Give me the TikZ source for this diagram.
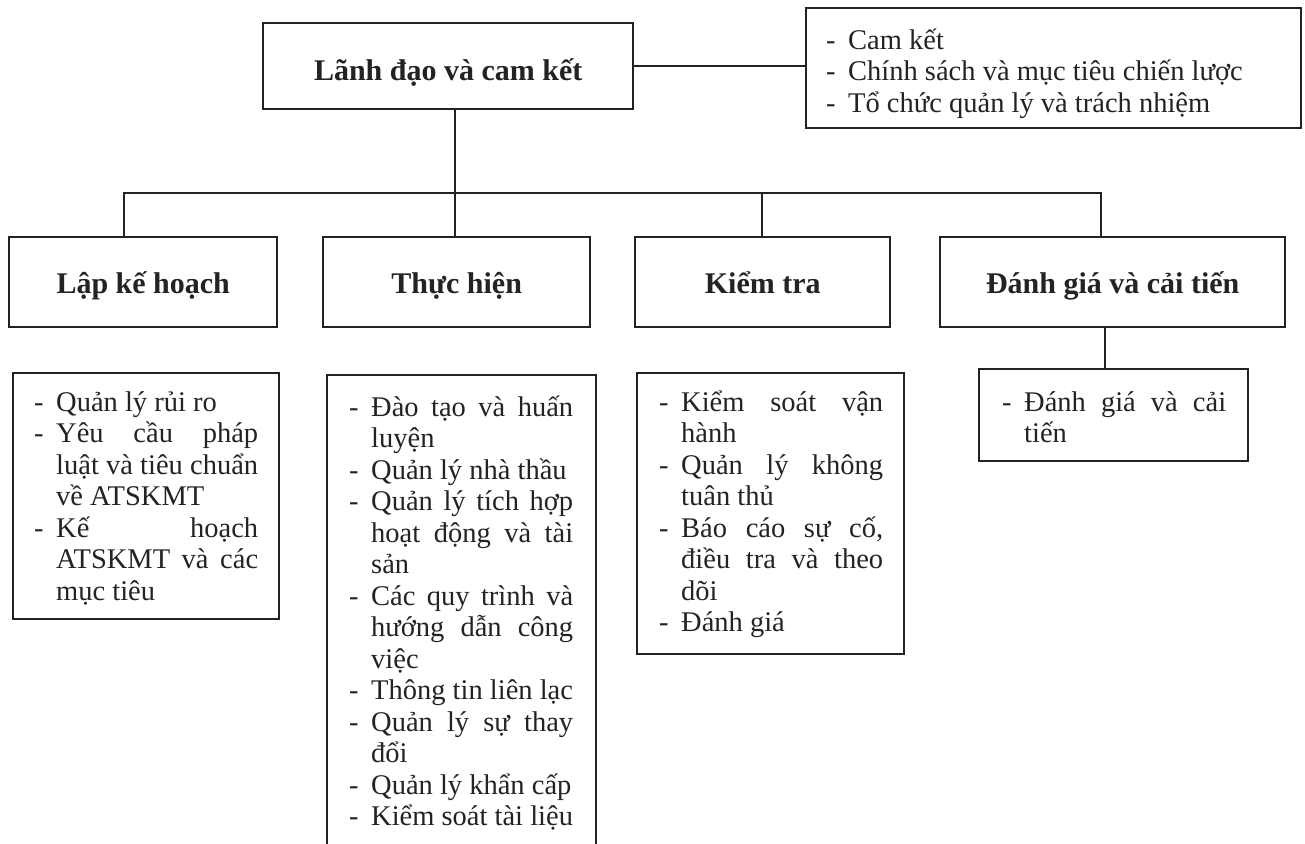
\documentclass[tikz,border=0pt]{standalone}
\usepackage{fontspec}
\setmainfont{Liberation Serif}
\definecolor{ink}{RGB}{35,35,35}
\newlength{\lw}\setlength{\lw}{202pt}
\newcommand{\Dsh}{\makebox[22pt][l]{-}}
\newcommand{\ItJ}[1]{\hbox{\Dsh\makebox[\lw][s]{#1}}}
\newcommand{\ItL}[1]{\hbox{\Dsh\makebox[\lw][l]{#1}}}
\newcommand{\CoJ}[1]{\hbox{\hskip22pt\makebox[\lw][s]{#1}}}
\newcommand{\CoL}[1]{\hbox{\hskip22pt\makebox[\lw][l]{#1}}}
\newcommand{\ListFont}{\fontsize{28.5}{31.5}\selectfont}
\tikzset{
  box/.style={draw=ink, line width=2.4pt, rectangle, inner sep=0pt, anchor=north west},
  head/.style={font=\fontsize{30}{34}\selectfont\bfseries, text=ink, anchor=base, inner sep=0pt},
  listtext/.style={anchor=base west, inner sep=0pt, text=ink},
  conn/.style={draw=ink, line width=2.2pt}
}
\begin{document}
\begin{tikzpicture}[x=1pt,y=-1pt]
\useasboundingbox[fill=white] (0,0) rectangle (1305,843);
% top level
\node[box, minimum width=370pt, minimum height=86pt] (lead) at (262,22) {};
\node[head] (leadt) at ([yshift=-14pt]lead.center) {Lãnh đạo và cam kết};
\node[box, minimum width=495pt, minimum height=120pt] (side) at (805,7) {};
\node[listtext] (sidet) at (826,49) {\parbox[t]{470pt}{\ListFont
  \hbox{\Dsh Cam kết}
  \hbox{\Dsh Chính sách và mục tiêu chiến lược}
  \hbox{\Dsh Tổ chức quản lý và trách nhiệm}}};
% second level headers
\node[box, minimum width=268pt, minimum height=90pt] (plan) at (8,236) {};
\node[head] (plant) at ([yshift=-11pt]plan.center) {Lập kế hoạch};
\node[box, minimum width=267pt, minimum height=90pt] (do) at (322,236) {};
\node[head] (dot) at ([yshift=-11pt]do.center) {Thực hiện};
\node[box, minimum width=255pt, minimum height=90pt] (check) at (634,236) {};
\node[head] (checkt) at ([yshift=-11pt]check.center) {Kiểm tra};
\node[box, minimum width=345pt, minimum height=90pt] (act) at (939,236) {};
\node[head] (actt) at ([yshift=-11pt]act.center) {Đánh giá và cải tiến};
% list boxes
\node[box, minimum width=266pt, minimum height=246pt] (planl) at (12,372) {};
\node[listtext] (planlt) at (34,411) {\parbox[t]{240pt}{\ListFont
  \ItL{Quản lý rủi ro}
  \ItJ{Yêu cầu pháp}
  \CoJ{luật và tiêu chuẩn}
  \CoL{về ATSKMT}
  \ItJ{Kế hoạch}
  \CoJ{ATSKMT và các}
  \CoL{mục tiêu}}};
\node[box, minimum width=269pt, minimum height=500pt] (dol) at (326,374) {};
\node[listtext] (dolt) at (349,416) {\parbox[t]{240pt}{\ListFont
  \ItJ{Đào tạo và huấn}
  \CoL{luyện}
  \ItL{Quản lý nhà thầu}
  \ItJ{Quản lý tích hợp}
  \CoJ{hoạt động và tài}
  \CoL{sản}
  \ItJ{Các quy trình và}
  \CoJ{hướng dẫn công}
  \CoL{việc}
  \ItL{Thông tin liên lạc}
  \ItJ{Quản lý sự thay}
  \CoL{đổi}
  \ItL{Quản lý khẩn cấp}
  \ItL{Kiểm soát tài liệu}}};
\node[box, minimum width=267pt, minimum height=281pt] (checkl) at (636,372) {};
\node[listtext] (checklt) at (659,411) {\parbox[t]{240pt}{\ListFont
  \ItJ{Kiểm soát vận}
  \CoL{hành}
  \ItJ{Quản lý không}
  \CoL{tuân thủ}
  \ItJ{Báo cáo sự cố,}
  \CoJ{điều tra và theo}
  \CoL{dõi}
  \ItL{Đánh giá}}};
\node[box, minimum width=269pt, minimum height=92pt] (actl) at (978,368) {};
\node[listtext] (actlt) at (1002,411) {\parbox[t]{240pt}{\ListFont
  \ItJ{Đánh giá và cải}
  \CoL{tiến}}};
% connectors
\coordinate (j0) at (455,193);
\coordinate (j1) at (124,193);
\coordinate (j3) at (762,193);
\coordinate (j4) at (1101,193);
\coordinate (k4) at (1105,300);
\draw[conn] (lead.east) -- (lead.east -| side.west);
\draw[conn] (j0 |- lead.south) -- (j0);
\draw[conn] (j1 |- plan.north) -- (j1) -- (j4) -- (j4 |- act.north);
\draw[conn] (j0) -- (j0 |- do.north);
\draw[conn] (j3) -- (j3 |- check.north);
\draw[conn] (k4 |- act.south) -- (k4 |- actl.north);
\end{tikzpicture}
\end{document}
